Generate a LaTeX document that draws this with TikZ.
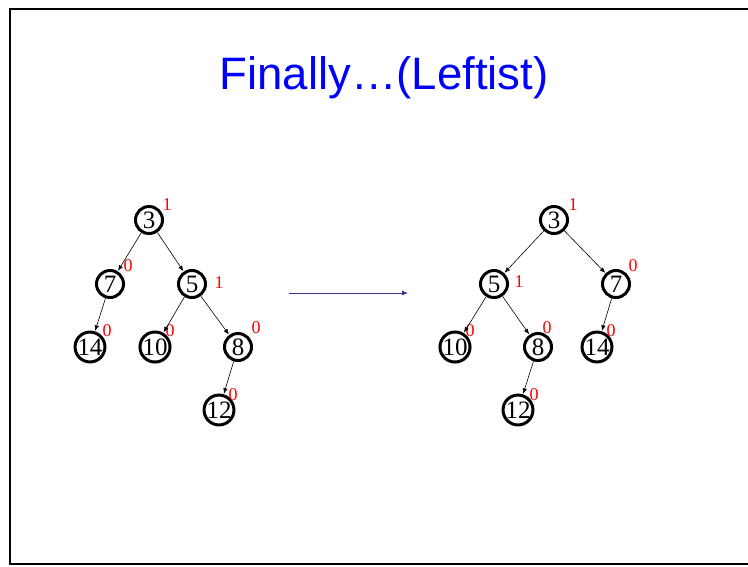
\documentclass[tikz,border=0pt]{standalone}
\usepackage{fontspec}
\setmainfont{Liberation Serif}
\newfontfamily\titlefont{Liberation Sans}
\usetikzlibrary{arrows.meta}
\definecolor{arrowblue}{RGB}{51,51,153}
\begin{document}
\begin{tikzpicture}[x=1pt,y=-1pt,
  hnode/.style={circle,draw=black,line width=3pt,minimum size=27pt,inner sep=0pt,font=\fontsize{25}{25}\selectfont},
  rank/.style={text=red,inner sep=0pt,font=\fontsize{18}{18}\selectfont},
  edge/.style={line width=0.6pt,-{Latex[length=5.5pt,width=4.5pt]},shorten >=0.5pt}]
\useasboundingbox (0,0) rectangle (748,566);
\draw[line width=2pt,black] (9.5,8.5) rectangle (770,564);
\node[text=blue,inner sep=0pt,font=\titlefont\fontsize{45.5}{45.5}\selectfont] (title) at (384,78) {Finally…(Leftist)};
% left tree
\node[hnode] (L3) at (149,220) {3};
\node[hnode] (L7) at (110,284) {7};
\node[hnode] (L5) at (192,284) {5};
\node[hnode] (L14) at (90,347) {14};
\node[hnode] (L10) at (155,347) {10};
\node[hnode] (L8) at (238,347) {8};
\node[hnode] (L12) at (219,410) {12};
\node[rank] (rL3) at (167,205) {1};
\node[rank] (rL7) at (128,266) {0};
\node[rank] (rL5) at (219,283) {1};
\node[rank] (rL14) at (107,331) {0};
\node[rank] (rL10) at (170,331) {0};
\node[rank] (rL8) at (256,328) {0};
\node[rank] (rL12) at (233,395) {0};
\draw[edge] (L3) -- (L7);
\draw[edge] (L3) -- (L5);
\draw[edge] (L7) -- (L14);
\draw[edge] (L5) -- (L10);
\draw[edge] (L5) -- (L8);
\draw[edge] (L8) -- (L12);
% middle arrow
\coordinate (ma) at (289,293);
\coordinate (mb) at (408,293);
\draw[arrowblue,line width=0.8pt,-{Latex[length=6pt,width=5pt]}] (ma) -- (mb);
% right tree
\node[hnode] (R3) at (554,220) {3};
\node[hnode] (R5) at (494,284) {5};
\node[hnode] (R7) at (616,284) {7};
\node[hnode] (R10) at (455,347) {10};
\node[hnode] (R8) at (538,347) {8};
\node[hnode] (R14) at (597,347) {14};
\node[hnode] (R12) at (518,410) {12};
\node[rank] (rR3) at (573,205) {1};
\node[rank] (rR5) at (519,282) {1};
\node[rank] (rR7) at (633,266) {0};
\node[rank] (rR10) at (470,331) {0};
\node[rank] (rR8) at (547,328) {0};
\node[rank] (rR14) at (611,331) {0};
\node[rank] (rR12) at (534,395) {0};
\draw[edge] (R3) -- (R5);
\draw[edge] (R3) -- (R7);
\draw[edge] (R5) -- (R10);
\draw[edge] (R5) -- (R8);
\draw[edge] (R7) -- (R14);
\draw[edge] (R8) -- (R12);
\end{tikzpicture}
\end{document}
